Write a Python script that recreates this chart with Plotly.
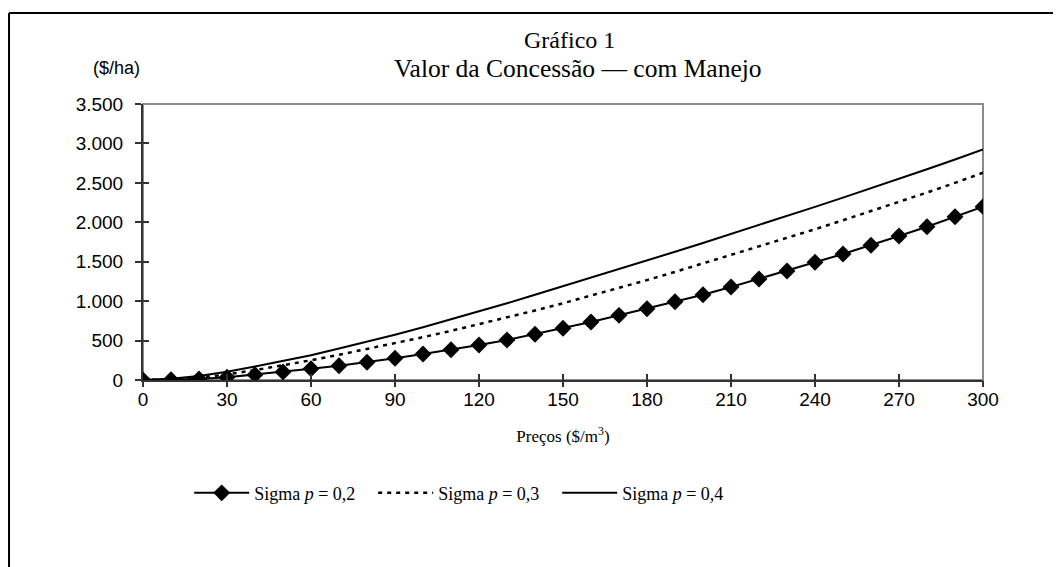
import plotly.graph_objects as go

precos = [0, 10, 20, 30, 40, 50, 60, 70, 80, 90, 100, 110, 120, 130, 140, 150,
          160, 170, 180, 190, 200, 210, 220, 230, 240, 250, 260, 270, 280, 290, 300]

sigma_02 = [0, 3, 12, 34, 67, 102, 142, 181, 225, 275, 330, 384, 444, 507, 580, 656,
            735, 820, 904, 993, 1082, 1179, 1281, 1382, 1493, 1598, 1708, 1826, 1944, 2071, 2198]

sigma_03 = [0, 8, 30, 70, 125, 185, 250, 320, 392, 466, 543, 623, 706, 792, 881, 973,
            1068, 1166, 1267, 1371, 1478, 1585, 1693, 1802, 1912, 2026, 2141, 2258, 2377, 2500, 2628]

sigma_04 = [0, 15, 50, 105, 170, 240, 315, 400, 485, 575, 670, 770, 870, 973, 1080, 1188,
            1296, 1405, 1515, 1626, 1738, 1851, 1965, 2080, 2196, 2313, 2431, 2551, 2673, 2797, 2924]

names = ["Sigma <i>p</i> = 0,2", "Sigma <i>p</i> = 0,3", "Sigma <i>p</i> = 0,4"]
x_ticks = [0, 30, 60, 90, 120, 150, 180, 210, 240, 270, 300]
y_ticks = [0, 500, 1000, 1500, 2000, 2500, 3000, 3500]
y_ticktext = ["0", "500", "1.000", "1.500", "2.000", "2.500", "3.000", "3.500"]

fig = go.Figure()
fig.add_trace(go.Scatter(x=precos, y=sigma_02, name=names[0], mode="lines+markers",
                         line=dict(color="black", width=2),
                         marker=dict(symbol="diamond", size=13, color="black")))
fig.add_trace(go.Scatter(x=precos, y=sigma_03, name=names[1], mode="lines",
                         line=dict(color="black", width=2.5, dash="4px,5px")))
fig.add_trace(go.Scatter(x=precos, y=sigma_04, name=names[2], mode="lines",
                         line=dict(color="black", width=2)))
# overlay axes (for ticks crossing the axis line)
fig.add_trace(go.Scatter(x=[precos[0]], y=[sigma_02[0]], xaxis="x2", yaxis="y2",
                         mode="markers", marker=dict(opacity=0), showlegend=False,
                         hoverinfo="skip"))
fig.add_trace(go.Scatter(x=[precos[0]], y=[sigma_02[0]], xaxis="x3", yaxis="y",
                         mode="markers", marker=dict(opacity=0), showlegend=False,
                         hoverinfo="skip"))

axis_font = dict(family="Liberation Sans, Arial", size=19, color="black")
serif = "Liberation Serif, Times New Roman"
tick_common = dict(tickcolor="#333", tickwidth=1.5, showticklabels=False, showgrid=False,
                   zeroline=False, showline=False)

fig.update_layout(
    width=1053, height=559,
    margin=dict(l=135, r=78, t=96, b=187),
    paper_bgcolor="white", plot_bgcolor="white",
    showlegend=True,
    legend=dict(orientation="h", x=0.055, xanchor="left", y=-0.41, yanchor="middle",
                font=dict(family=serif, size=18, color="black"),
                itemwidth=55, tracegroupgap=0, entrywidth=114, entrywidthmode="pixels",
                bgcolor="rgba(0,0,0,0)"),
    xaxis=dict(range=[0, 300], tickvals=x_ticks, ticks="outside", ticklen=1,
               tickcolor="#333", tickwidth=1.5,
               showline=True, linecolor="#333", linewidth=2, showgrid=False,
               zeroline=False, tickfont=axis_font,
               title=dict(text="Preços ($/m<sup>3</sup>)",
                          font=dict(family=serif, size=17, color="black"), standoff=21)),
    yaxis=dict(range=[0, 3500], tickvals=y_ticks, ticktext=y_ticktext, ticks="outside",
               ticklen=6, tickcolor="#333", tickwidth=1.5,
               showline=True, linecolor="#333", linewidth=2, showgrid=False,
               zeroline=False, tickfont=axis_font, ticklabelstandoff=8),
    xaxis2=dict(overlaying="x", matches="x", range=[0, 300], tickvals=x_ticks,
                ticks="inside", ticklen=6, side="bottom", **tick_common),
    xaxis3=dict(overlaying="x", matches="x", range=[0, 300], tickvals=x_ticks,
                ticks="outside", ticklen=6, side="bottom", **tick_common),
    yaxis2=dict(overlaying="y", matches="y", range=[0, 3500], tickvals=y_ticks,
                ticks="inside", ticklen=6, side="left", **tick_common),
    shapes=[
        dict(type="rect", xref="paper", yref="paper", x0=0, x1=1, y0=0, y1=1,
             line=dict(color="#8c8c8c", width=2), layer="below"),
        dict(type="line", xref="paper", yref="paper", x0=-0.1595, x1=1.2, y0=1.3297, y1=1.3297,
             line=dict(color="black", width=2)),
        dict(type="line", xref="paper", yref="paper", x0=-0.1595, x1=-0.1595, y0=1.3297, y1=-0.8,
             line=dict(color="black", width=2)),
    ],
    annotations=[
        dict(text="Gráfico 1", xref="paper", yref="paper", x=0.508, y=1.232,
             xanchor="center", yanchor="middle", showarrow=False,
             font=dict(family=serif, size=24, color="black")),
        dict(text="Valor da Concessão — com Manejo", xref="paper", yref="paper",
             x=0.518, y=1.13, xanchor="center", yanchor="middle", showarrow=False,
             font=dict(family=serif, size=25.5, color="black")),
        dict(text="($/ha)", xref="paper", yref="paper", x=-0.032, y=1.13,
             xanchor="center", yanchor="middle", showarrow=False,
             font=dict(family="Liberation Sans, Arial", size=18, color="black")),
    ],
)

fig.write_html("out.html")
